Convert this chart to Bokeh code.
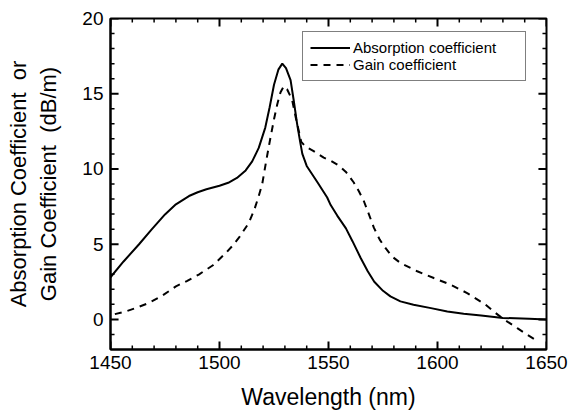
from bokeh.plotting import figure
from bokeh.models import SingleIntervalTicker, Range1d, Legend, LegendItem
from bokeh.embed import file_html
from bokeh.resources import INLINE

# Absorption coefficient (solid)
abs_wl = [1450, 1456, 1463, 1469, 1475, 1480, 1486, 1490, 1494, 1500, 1504, 1508,
          1512, 1515, 1518, 1521, 1523, 1525, 1527, 1528.8, 1530.5, 1532.6, 1534,
          1535.6, 1537, 1538, 1540, 1545, 1549.4, 1551, 1554, 1558, 1561, 1564.7,
          1568, 1571, 1575, 1578.4, 1583, 1589, 1597, 1604.5, 1612, 1620, 1630,
          1642, 1650]
abs_val = [2.8, 3.85, 4.98, 6.0, 6.98, 7.65, 8.2, 8.45, 8.65, 8.88, 9.08, 9.4,
           9.9, 10.5, 11.4, 12.75, 14.1, 15.6, 16.6, 17.0, 16.7, 15.9, 14.6,
           13.0, 11.8, 11.0, 10.2, 9.1, 8.1, 7.6, 6.9, 6.05, 5.2, 4.1,
           3.2, 2.5, 1.9, 1.53, 1.2, 0.98, 0.75, 0.53, 0.38, 0.26, 0.1,
           0.04, 0.0]

# Gain coefficient (dashed)
gain_wl = [1452, 1457, 1462, 1467.6, 1474, 1480, 1485, 1490.5, 1497, 1502.8, 1506,
           1509, 1513.4, 1516, 1518, 1519.6, 1521.5, 1523.4, 1525, 1526.5, 1528,
           1529.5, 1531, 1533.3, 1535, 1536.4, 1537.5, 1539.4, 1543, 1547.8, 1551,
           1555, 1558, 1561.6, 1564, 1566.2, 1568.5, 1570.8, 1573.5, 1576.1, 1579,
           1583, 1590.7, 1598.3, 1606, 1613.6, 1618, 1622, 1626, 1630, 1636.6,
           1641, 1646]
gain_val = [0.35, 0.53, 0.78, 1.09, 1.6, 2.2, 2.55, 2.98, 3.6, 4.4, 4.9,
            5.45, 6.4, 7.3, 8.2, 9.0, 10.6, 12.1, 13.3, 14.3, 15.1,
            15.5, 15.3, 14.6, 13.4, 12.5, 11.8, 11.5, 11.2, 10.75, 10.55,
            10.2, 9.8, 9.1, 8.5, 7.87, 7.0, 6.1, 5.3, 4.75, 4.2,
            3.75, 3.2, 2.75, 2.31, 1.75, 1.35, 0.98, 0.5, 0.05, -0.58,
            -1.0, -1.45]

# Axis ticks
x_major_ticks = [1450, 1500, 1550, 1600, 1650]
x_minor_ticks = [v for v in range(1460, 1650, 10) if v % 50 != 0]
y_major_ticks = [0, 5, 10, 15, 20]
y_minor_ticks = [v for v in range(-1, 20) if v % 5 != 0]

series_labels = ["Absorption coefficient", "Gain coefficient"]
x_label = "Wavelength (nm)"
y_label = "Absorption Coefficient\u00a0 or\nGain Coefficient\u00a0 (dB/m)"

FONT = "Liberation Sans"
X0, X1, Y0, Y1 = 1450, 1650, -2, 20

p = figure(width=571, height=420, output_backend="svg", toolbar_location=None,
           x_range=Range1d(X0, X1), y_range=Range1d(Y0, Y1),
           background_fill_color="white", border_fill_color="white")
p.min_border_left = 110
p.min_border_right = 25
p.min_border_top = 18
p.min_border_bottom = 71
p.grid.visible = False
p.outline_line_color = "black"
p.outline_line_width = 2

p.xaxis.ticker = SingleIntervalTicker(interval=50, num_minor_ticks=5)
p.yaxis.ticker = SingleIntervalTicker(interval=5, num_minor_ticks=5)

for ax in (p.xaxis[0], p.yaxis[0]):
    ax.axis_line_width = 2
    ax.axis_line_color = "black"
    ax.major_tick_in = 0
    ax.major_tick_out = 0
    ax.minor_tick_in = 0
    ax.minor_tick_out = 0
    ax.major_label_text_font = FONT
    ax.major_label_text_font_size = "19px"
    ax.major_label_text_color = "black"
    ax.axis_label_text_font = FONT
    ax.axis_label_text_font_style = "normal"
    ax.axis_label_text_color = "black"
p.xaxis.axis_label = x_label
p.yaxis.axis_label = y_label
p.xaxis.axis_label_text_font_size = "23px"
p.yaxis.axis_label_text_font_size = "22px"
p.xaxis.major_label_standoff = 6
p.yaxis.major_label_standoff = 7
p.xaxis.axis_label_standoff = 12
p.yaxis.axis_label_standoff = 18

# inward ticks on all four sides (major ~8px, minor ~4px)
ymaj, ymin = 0.53, 0.27      # vertical tick lengths (y units)
xmaj, xmin = 3.7, 1.85       # horizontal tick lengths (x units)
for ticks, ly, lw in ((x_major_ticks, ymaj, 2), (x_minor_ticks, ymin, 1.5)):
    p.segment(x0=ticks, y0=[Y0] * len(ticks), x1=ticks, y1=[Y0 + ly] * len(ticks),
              line_color="black", line_width=lw)
    p.segment(x0=ticks, y0=[Y1] * len(ticks), x1=ticks, y1=[Y1 - ly] * len(ticks),
              line_color="black", line_width=lw)
for ticks, lx, lw in ((y_major_ticks, xmaj, 2), (y_minor_ticks, xmin, 1.5)):
    p.segment(x0=[X0] * len(ticks), y0=ticks, x1=[X0 + lx] * len(ticks), y1=ticks,
              line_color="black", line_width=lw)
    p.segment(x0=[X1] * len(ticks), y0=ticks, x1=[X1 - lx] * len(ticks), y1=ticks,
              line_color="black", line_width=lw)

r1 = p.line(abs_wl, abs_val, line_color="black", line_width=2)
r2 = p.line(gain_wl, gain_val, line_color="black", line_width=2, line_dash="7 6")

legend = Legend(items=[LegendItem(label=series_labels[0], renderers=[r1]),
                       LegendItem(label=series_labels[1], renderers=[r2])],
                location=(192, 268))
legend.label_text_font = FONT
legend.label_text_font_size = "15px"
legend.label_text_color = "black"
legend.glyph_width = 40
legend.glyph_height = 17
legend.label_height = 17
legend.label_standoff = 3
legend.label_width = 165
legend.spacing = 0
legend.padding = 7
legend.border_line_color = "black"
legend.border_line_width = 1
legend.background_fill_color = "white"
legend.background_fill_alpha = 1
p.add_layout(legend, "center")

open("out.html", "w").write(file_html(p, INLINE))
